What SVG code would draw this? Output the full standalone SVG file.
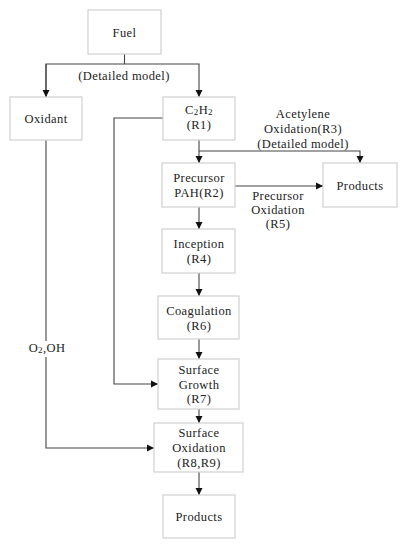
<svg xmlns="http://www.w3.org/2000/svg" width="408" height="550" viewBox="0 0 408 550">
<style>
.box{fill:#fff;stroke:#d0d0d0;stroke-width:1.2}
.t{font-family:"Liberation Serif","DejaVu Serif",serif;font-size:12.5px;letter-spacing:0.4px;fill:#222;text-anchor:middle}
.c{fill:none;stroke:#444;stroke-width:1.1}
.s{font-size:9px}
</style>
<defs>
<marker id="ah" markerWidth="8" markerHeight="8" refX="7" refY="4" orient="auto" markerUnits="userSpaceOnUse">
<path d="M0,0.5 L7,4 L0,7.5 Z" fill="#111"/>
</marker>
</defs>
<rect width="408" height="550" fill="#fff"/>
<g id="connectors">
<path class="c" d="M124.5,54 V64"/>
<path class="c" d="M46,97 V64 H199 V97" marker-end="url(#ah)"/>
<path class="c" d="M46,64 V97" marker-end="url(#ah)"/>
<path class="c" d="M163,118 H114 V384 H158" marker-end="url(#ah)"/>
<path class="c" d="M199,140 V163" marker-end="url(#ah)"/>
<path class="c" d="M199,151 H360 V163" marker-end="url(#ah)"/>
<path class="c" d="M235,186 H323" marker-end="url(#ah)"/>
<path class="c" d="M199,207 V229" marker-end="url(#ah)"/>
<path class="c" d="M199,273 V296" marker-end="url(#ah)"/>
<path class="c" d="M199,339 V359" marker-end="url(#ah)"/>
<path class="c" d="M199,409 V423" marker-end="url(#ah)"/>
<path class="c" d="M199,472 V495" marker-end="url(#ah)"/>
<path class="c" d="M46,140 V341"/>
<path class="c" d="M46,357 V448 H154" marker-end="url(#ah)"/>
<text class="t" x="124" y="80">(Detailed model)</text>
<text class="t" x="303" y="118">Acetylene</text>
<text class="t" x="303" y="133">Oxidation(R3)</text>
<text class="t" x="303" y="148">(Detailed model)</text>
<text class="t" x="278" y="200">Precursor</text>
<text class="t" x="278" y="214">Oxidation</text>
<text class="t" x="278" y="228">(R5)</text>
<text class="t" x="47" y="352">O<tspan class="s" dy="1">2</tspan><tspan dy="-1">,OH</tspan></text>
</g>
<g id="fuel"><rect class="box" x="88" y="10" width="73" height="44"/><text class="t" x="124.5" y="37">Fuel</text></g>
<g id="oxidant"><rect class="box" x="10" y="97" width="72" height="43"/><text class="t" x="46" y="123">Oxidant</text></g>
<g id="c2h2"><rect class="box" x="163" y="97" width="72" height="43"/><text class="t" x="199" y="114">C<tspan class="s" dy="1">2</tspan><tspan dy="-1">H</tspan><tspan class="s" dy="1">2</tspan></text><text class="t" x="199" y="129">(R1)</text></g>
<g id="precursor"><rect class="box" x="162" y="163" width="73" height="44"/><text class="t" x="199" y="182">Precursor</text><text class="t" x="199" y="196.5">PAH(R2)</text></g>
<g id="products1"><rect class="box" x="323" y="163" width="74" height="44"/><text class="t" x="360" y="190">Products</text></g>
<g id="inception"><rect class="box" x="162" y="229" width="73" height="44"/><text class="t" x="199" y="248">Inception</text><text class="t" x="199" y="263">(R4)</text></g>
<g id="coagulation"><rect class="box" x="158" y="296" width="81" height="43"/><text class="t" x="199" y="315">Coagulation</text><text class="t" x="199" y="330">(R6)</text></g>
<g id="growth"><rect class="box" x="158" y="359" width="81" height="50"/><text class="t" x="199" y="374">Surface</text><text class="t" x="199" y="389">Growth</text><text class="t" x="199" y="403">(R7)</text></g>
<g id="oxidation"><rect class="box" x="154" y="423" width="89" height="49"/><text class="t" x="199" y="437">Surface</text><text class="t" x="199" y="452">Oxidation</text><text class="t" x="199" y="467">(R8,R9)</text></g>
<g id="products2"><rect class="box" x="163" y="495" width="72" height="43"/><text class="t" x="199" y="521">Products</text></g>
</svg>
